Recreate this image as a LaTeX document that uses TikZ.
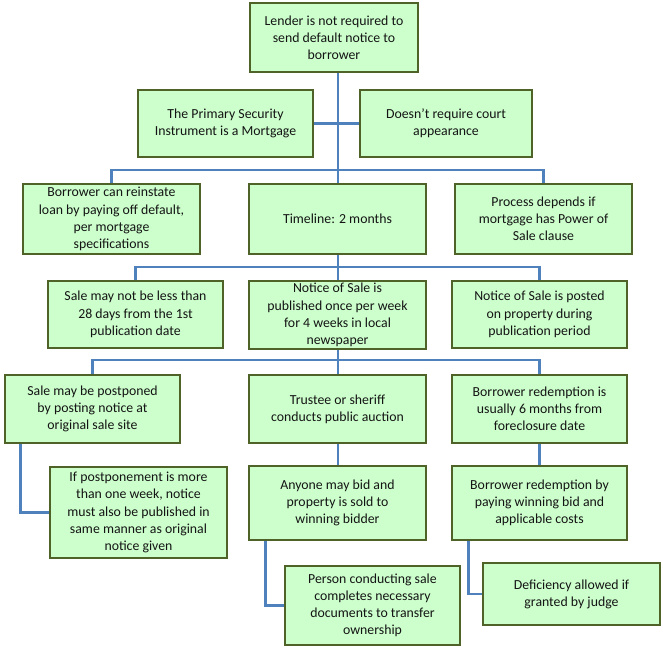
\documentclass[tikz,border=0pt]{standalone}
\usepackage{fontspec}
\setmainfont{Carlito}
\pgfdeclarelayer{bg}
\pgfsetlayers{bg,main}
\begin{document}
\begin{tikzpicture}[x=1pt,y=-1pt,
 box/.style={draw={rgb,255:red,79;green,98;blue,40},line width=2.6pt,fill={rgb,255:red,204;green,255;blue,204},align=center,inner sep=1pt,font=\fontsize{13.8}{17.2}\selectfont,text={rgb,255:red,20;green,20;blue,20}},
 ln/.style={draw={rgb,255:red,79;green,129;blue,189},line width=2.6pt}]
\useasboundingbox (0,0) rectangle (663,663);
\newcommand\bx[6]{\node[box,minimum width={#4-#2},minimum height={#5-#3}] (#1) at ({(#2+#4)/2},{(#3+#5)/2}) {#6};}
\bx{a}{250}{3}{418}{72}{Lender is not required to\\send default notice to\\borrower}
\bx{b}{138}{90}{313}{157}{The Primary Security\\Instrument is a Mortgage}
\bx{c}{360}{90}{532}{157}{Doesn't require court\\appearance}
\bx{d}{23}{184}{200}{254}{Borrower can reinstate\\loan by paying off default,\\per mortgage\\specifications}
\bx{e}{249}{184}{426}{254}{Timeline: 2 months}
\bx{f}{455}{184}{632}{254}{Process depends if\\mortgage has Power of\\Sale clause}
\bx{g}{48}{281}{223}{348}{Sale may not be less than\\28 days from the 1st\\publication date}
\bx{h}{249}{281}{426}{349}{Notice of Sale is\\published once per week\\for 4 weeks in local\\newspaper}
\bx{i}{452}{281}{627}{348}{Notice of Sale is posted\\on property during\\publication period}
\bx{k}{5}{375}{180}{443}{Sale may be postponed\\by posting notice at\\original sale site}
\bx{l}{249}{375}{426}{443}{Trustee or sheriff\\conducts public auction}
\bx{m}{452}{375}{627}{443}{Borrower redemption is\\usually 6 months from\\foreclosure date}
\bx{n}{50}{467}{227}{558}{If postponement is more\\than one week, notice\\must also be published in\\same manner as original\\notice given}
\bx{o}{249}{466}{426}{540}{Anyone may bid and\\property is sold to\\winning bidder}
\bx{p}{452}{466}{627}{540}{Borrower redemption by\\paying winning bid and\\applicable costs}
\bx{q}{285}{566}{460}{645}{Person conducting sale\\completes necessary\\documents to transfer\\ownership}
\bx{r}{483}{563}{660}{625}{Deficiency allowed if\\granted by judge}
\begin{pgfonlayer}{bg}
\coordinate (t0) at (338,72);
\coordinate (j1) at (338,170);
\coordinate (j2) at (338,267);
\coordinate (j3) at (338,360);
\coordinate (t4) at (338,466);
\draw[ln] (t0) -- (t4);
\draw[ln] (b.east) -- (c.west);
\draw[ln] (d.north) |- (j1) -| (f.north);
\draw[ln] (g.north) |- (j2) -| (i.north);
\draw[ln] (k.north) |- (j3) -| (m.north);
\draw[ln] (m.south) -- (p.north);
\draw[ln] (k.south west) ++(17,0) coordinate (k1) |- (n.west);
\draw[ln] (o.south west) ++(18,0) coordinate (o1) |- (q.west);
\draw[ln] (p.south west) ++(18,0) coordinate (p1) |- (r.west);
\end{pgfonlayer}
\end{tikzpicture}
\end{document}
